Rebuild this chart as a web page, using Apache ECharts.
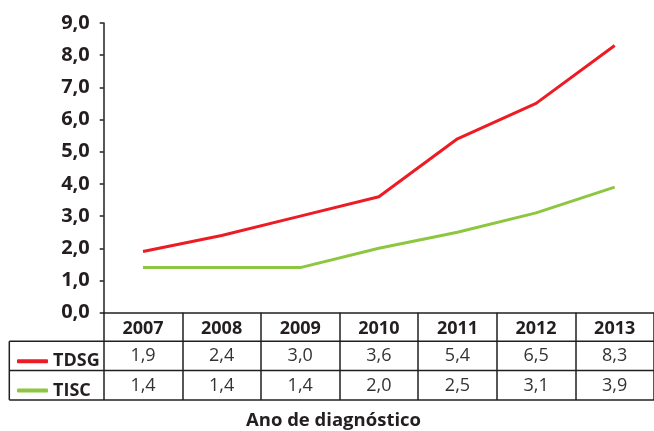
<!DOCTYPE html>
<html>
<head>
<meta charset="utf-8">
<script src="https://cdn.jsdelivr.net/npm/echarts@6/dist/echarts.min.js"></script>
<style>
  html, body { margin: 0; padding: 0; background: #fff; }
  #chart { width: 654px; height: 431px; }
</style>
</head>
<body>
<div id="chart"></div>
<script>
// Rates by year of diagnosis
const years = ['2007', '2008', '2009', '2010', '2011', '2012', '2013'];
const tdsg = [1.9, 2.4, 3.0, 3.6, 5.4, 6.5, 8.3];
const tisc = [1.4, 1.4, 1.4, 2.0, 2.5, 3.1, 3.9];
const seriesNames = ['TDSG', 'TISC'];
const axisTitle = 'Ano de diagnóstico';

const INK = '#231f20';
const FONT = '"Open Sans", "Noto Sans", sans-serif';
const RED = '#ed1c24';
const GREEN = '#8dc63f';

// decimal comma, one digit
const fmt = v => Number(v).toFixed(1).replace('.', ',');

// layout of the plot and of the data table beneath it
const GRID_LEFT = 103.7, GRID_TOP = 22.9, GRID_BOTTOM_Y = 312.7, GRID_W = 552.5;
const ROW_H = 29.3;
const TABLE_LEFT = 9.3;
const row1Y = GRID_BOTTOM_Y + 28.6, row2Y = row1Y + ROW_H, row3Y = row2Y + ROW_H;

const chart = echarts.init(document.getElementById('chart'), null, { renderer: 'canvas' });

const rowAxis = (offset, values) => ({
  type: 'category',
  data: years,
  gridIndex: 0,
  position: 'bottom',
  offset: offset,
  boundaryGap: true,
  axisLine: { show: false },
  axisTick: { show: false },
  axisLabel: {
    interval: 0,
    margin: 6,
    fontFamily: FONT,
    fontSize: 18,
    color: '#333',
    formatter: (v, i) => fmt(values[i])
  }
});

chart.setOption({
  animation: false,
  backgroundColor: '#fff',
  grid: {
    left: GRID_LEFT,
    top: GRID_TOP,
    width: GRID_W,
    height: GRID_BOTTOM_Y - GRID_TOP,
    containLabel: false
  },
  xAxis: [
    {
      type: 'category',
      data: years,
      position: 'bottom',
      boundaryGap: true,
      axisLine: { show: true, lineStyle: { color: INK, width: 1.5 } },
      axisTick: {
        show: true,
        interval: 0,
        length: row3Y - GRID_BOTTOM_Y,
        lineStyle: { color: INK, width: 1.5 }
      },
      axisLabel: {
        interval: 0,
        margin: 7,
        fontFamily: FONT,
        fontSize: 18,
        fontWeight: 'bold',
        color: INK
      }
    },
    rowAxis(row1Y - GRID_BOTTOM_Y, tdsg),
    rowAxis(row2Y - GRID_BOTTOM_Y, tisc)
  ],
  yAxis: {
    type: 'value',
    min: 0,
    max: 9,
    interval: 1,
    splitLine: { show: false },
    axisLine: { show: true, lineStyle: { color: INK, width: 1.5 } },
    axisTick: { show: true, length: 4, lineStyle: { color: INK, width: 1.5 } },
    axisLabel: {
      margin: 14,
      fontFamily: FONT,
      fontSize: 20,
      fontWeight: 'bold',
      color: INK,
      formatter: v => fmt(v)
    }
  },
  legend: {
    data: seriesNames,
    orient: 'vertical',
    left: 12,
    top: row1Y + 6,
    itemWidth: 31,
    itemHeight: 4,
    itemGap: ROW_H - 18,
    icon: 'roundRect',
    selectedMode: false,
    textStyle: {
      fontFamily: FONT,
      fontSize: 18,
      lineHeight: 18,
      fontWeight: 'bold',
      color: INK
    }
  },
  graphic: [
    // table rules
    { type: 'line', shape: { x1: TABLE_LEFT, y1: row1Y, x2: 654, y2: row1Y }, style: { stroke: INK, lineWidth: 1.5 } },
    { type: 'line', shape: { x1: TABLE_LEFT, y1: row2Y, x2: 654, y2: row2Y }, style: { stroke: INK, lineWidth: 1.5 } },
    { type: 'line', shape: { x1: TABLE_LEFT, y1: row3Y, x2: 654, y2: row3Y }, style: { stroke: INK, lineWidth: 1.5 } },
    { type: 'line', shape: { x1: TABLE_LEFT, y1: row1Y, x2: TABLE_LEFT, y2: row3Y }, style: { stroke: INK, lineWidth: 1.5 } },
    {
      type: 'text',
      x: 333.5,
      y: 421,
      style: {
        text: axisTitle,
        fontFamily: FONT,
        fontSize: 18.5,
        fontWeight: 'bold',
        fill: INK,
        align: 'center',
        verticalAlign: 'middle'
      }
    }
  ],
  series: [
    {
      name: seriesNames[0],
      type: 'line',
      data: tdsg,
      showSymbol: false,
      color: RED,
      lineStyle: { color: RED, width: 3 }
    },
    {
      name: seriesNames[1],
      type: 'line',
      data: tisc,
      showSymbol: false,
      color: GREEN,
      lineStyle: { color: GREEN, width: 3 }
    }
  ]
});
</script>
</body>
</html>
